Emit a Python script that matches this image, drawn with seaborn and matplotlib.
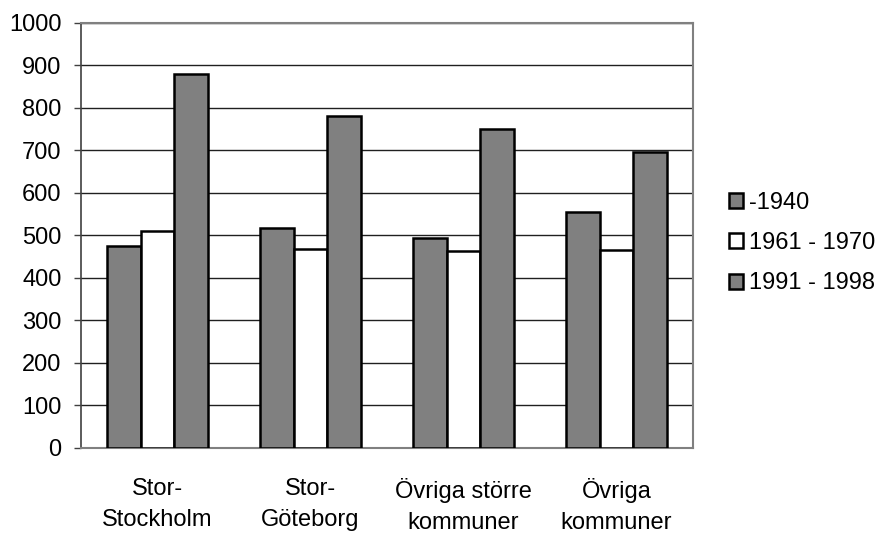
import matplotlib
matplotlib.use("Agg")
import matplotlib.pyplot as plt
import seaborn as sns
import pandas as pd

categories = ["Stor-\nStockholm", "Stor-\nGöteborg", "Övriga större\nkommuner", "Övriga\nkommuner"]
series_names = ["-1940", "1961 - 1970", "1991 - 1998"]
v_1940 = [476, 517, 494, 556]
v_1961 = [510, 469, 463, 466]
v_1991 = [879, 781, 750, 696]
yticks = [0, 100, 200, 300, 400, 500, 600, 700, 800, 900, 1000]

rows = []
for name, vals in zip(series_names, [v_1940, v_1961, v_1991]):
    for c, v in zip(categories, vals):
        rows.append({"cat": c, "series": name, "value": v})
df = pd.DataFrame(rows)

sns.set_style("white")
plt.rcParams["font.family"] = ["Liberation Sans", "DejaVu Sans"]
plt.rcParams["text.color"] = "black"
plt.rcParams["xtick.color"] = "black"
plt.rcParams["ytick.color"] = "black"

fig = plt.figure(figsize=(8.82, 5.34), dpi=100)
W, H = 882, 534
left, right, top, bottom = 81, 693, 22.7, 448
ax = fig.add_axes([left / W, 1 - bottom / H, (right - left) / W, (bottom - top) / H])

sns.barplot(data=df, x="cat", y="value", hue="series", order=categories,
            hue_order=series_names,
            palette=["#808080", "#ffffff", "#808080"],
            edgecolor="black", linewidth=1.8, width=0.665, gap=0,
            saturation=1, errorbar=None, ax=ax, zorder=3)

ax.set_ylim(0, 1000)
ax.set_xlim(-0.5, 3.5)
ax.set_yticks(yticks)
ax.set_yticklabels([str(t) for t in yticks])
ax.yaxis.grid(True, color="#202020", linewidth=1.0, zorder=0)
ax.set_axisbelow(True)
ax.set_xlabel("")
ax.set_ylabel("")

for s in ["top", "right", "bottom"]:
    ax.spines[s].set_visible(True)
    ax.spines[s].set_color("#808080")
    ax.spines[s].set_linewidth(1.5)
ax.spines["left"].set_color("#404040")
ax.spines["left"].set_linewidth(1.2)

ax.tick_params(axis="y", which="major", left=True, length=5, width=1.0,
               color="#404040", labelcolor="black", labelsize=17, pad=9)
ax.tick_params(axis="x", bottom=False, labelsize=17, labelcolor="black", pad=18)
for lab in ax.get_xticklabels():
    lab.set_linespacing(1.55)

handles, labels = ax.get_legend_handles_labels()
leg = ax.legend(handles, labels, loc="center left",
                bbox_to_anchor=(729 / W, 1 - 243 / H), bbox_transform=fig.transFigure,
                frameon=False, fontsize=17, handlelength=0.6, handleheight=0.6,
                handletextpad=0.25, labelspacing=0.78, borderpad=0, borderaxespad=0)
for t in leg.get_texts():
    t.set_color("black")

fig.savefig("out.png", dpi=100)
